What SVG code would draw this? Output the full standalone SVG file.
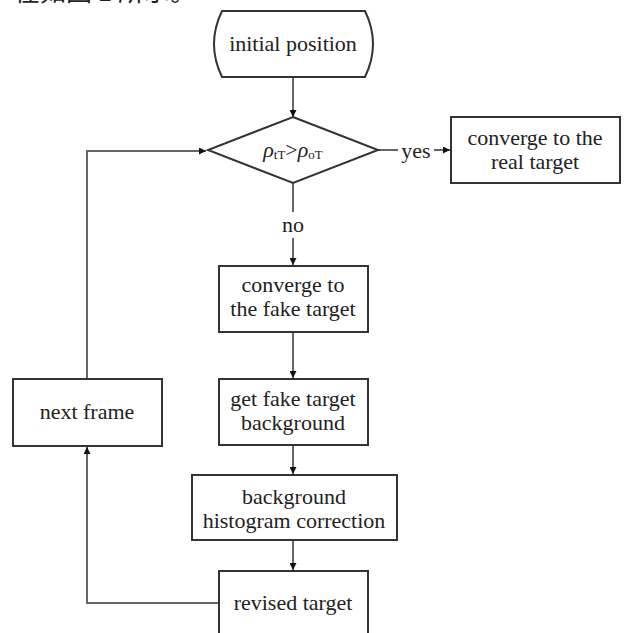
<svg xmlns="http://www.w3.org/2000/svg" width="627" height="633" viewBox="0 0 627 633">
<defs>
<style>
.t{font-family:"Liberation Serif","Times New Roman",serif;font-size:22px;fill:#222;text-anchor:middle}
.n{fill:#fff;stroke:#333;stroke-width:2}
.c{fill:none;stroke:#666;stroke-width:2}
.cjk{font-family:"Noto Sans CJK SC","Noto Serif CJK SC",sans-serif;font-size:26px;fill:#222}
</style>
<marker id="a" viewBox="0 0 10 10" refX="10" refY="5" markerWidth="7" markerHeight="7" orient="auto" markerUnits="userSpaceOnUse"><path d="M0,0L10,5L0,10z" fill="#111"/></marker>
</defs>
<rect width="627" height="633" fill="#fff"/>
<text class="cjk" x="14" y="1">在如图 1 所示。</text>
<g id="connectors">
<path class="c" d="M293,77V117" marker-end="url(#a)"/>
<path class="c" d="M378,150H398"/>
<path class="c" d="M434,150H450" marker-end="url(#a)"/>
<path class="c" d="M293,183V212"/>
<path class="c" d="M293,238V265" marker-end="url(#a)"/>
<path class="c" d="M293,332V378" marker-end="url(#a)"/>
<path class="c" d="M293,445V474" marker-end="url(#a)"/>
<path class="c" d="M293,540V570" marker-end="url(#a)"/>
<path class="c" d="M219,603H87V447" marker-end="url(#a)"/>
<path class="c" d="M87,379V151H206" marker-end="url(#a)"/>
<text class="t" x="416" y="158">yes</text>
<text class="t" x="293" y="232">no</text>
</g>
<g id="start">
<path class="n" d="M222,11H365Q381,44 365,77H222Q206,44 222,11Z"/>
<text class="t" x="293" y="51">initial position</text>
</g>
<g id="decision">
<path class="n" d="M293,117L378,150L293,183L208,150Z"/>
<text class="t" x="293" y="157"><tspan font-style="italic">ρ</tspan><tspan font-size="13" dy="2">tT</tspan><tspan dy="-2">&gt;</tspan><tspan font-style="italic">ρ</tspan><tspan font-size="13" dy="2">oT</tspan></text>
</g>
<g id="real">
<rect class="n" x="451" y="117" width="169" height="66"/>
<text class="t" x="535" y="145">converge to the</text>
<text class="t" x="535" y="169">real target</text>
</g>
<g id="fake">
<rect class="n" x="219" y="266" width="149" height="66"/>
<text class="t" x="293" y="292">converge to</text>
<text class="t" x="293" y="316">the fake target</text>
</g>
<g id="getbg">
<rect class="n" x="219" y="379" width="149" height="66"/>
<text class="t" x="293" y="406">get fake target</text>
<text class="t" x="293" y="430">background</text>
</g>
<g id="hist">
<rect class="n" x="192" y="475" width="205" height="65"/>
<text class="t" x="294" y="504">background</text>
<text class="t" x="294" y="528">histogram correction</text>
</g>
<g id="revised">
<rect class="n" x="219" y="571" width="149" height="70"/>
<text class="t" x="293" y="610">revised target</text>
</g>
<g id="next">
<rect class="n" x="13" y="379" width="149" height="67"/>
<text class="t" x="87" y="419">next frame</text>
</g>
</svg>
